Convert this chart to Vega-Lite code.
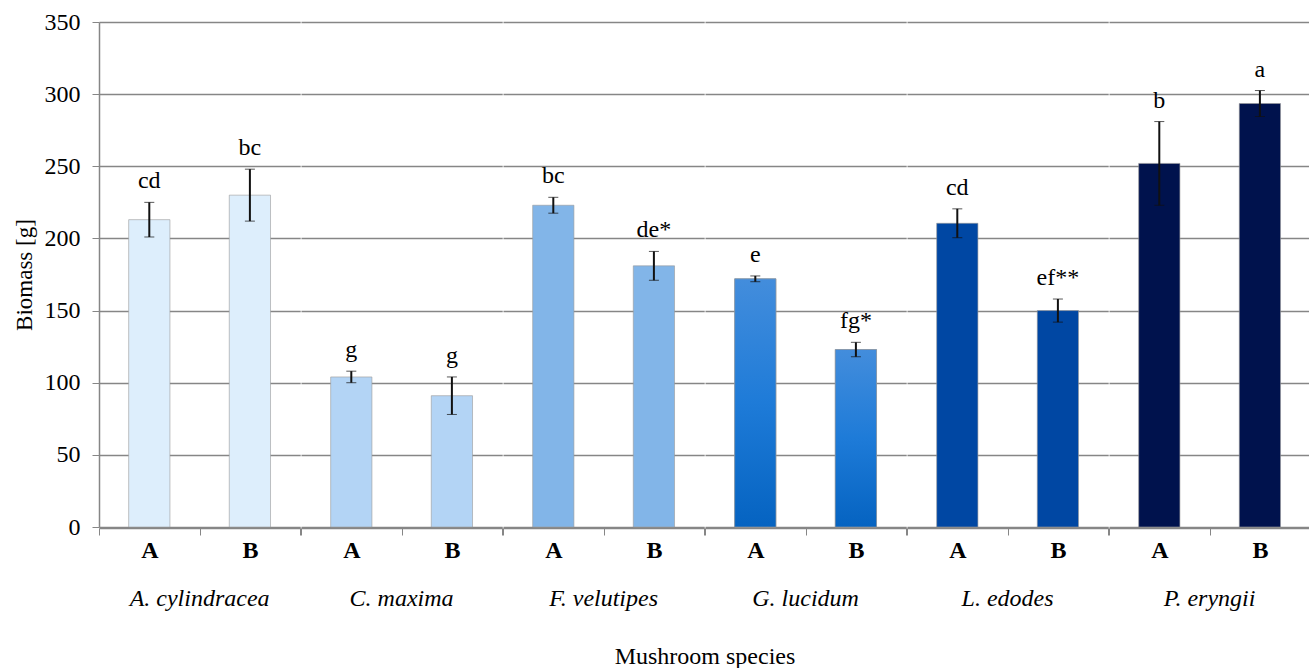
{
  "$schema": "https://vega.github.io/schema/vega-lite/v6.json",
  "background": "white",
  "padding": {"left": 13, "top": 10, "right": 0, "bottom": 0},
  "config": {
    "view": {"stroke": null},
    "font": "Liberation Serif",
    "axis": {"labelFont": "Liberation Serif", "titleFont": "Liberation Serif"}
  },
  "data": {
    "values": [
      {"species": "A. cylindracea", "treatment": "A", "mean": 213, "err": 12, "group": "cd"},
      {"species": "A. cylindracea", "treatment": "B", "mean": 230, "err": 18, "group": "bc"},
      {"species": "C. maxima", "treatment": "A", "mean": 104, "err": 4, "group": "g"},
      {"species": "C. maxima", "treatment": "B", "mean": 91, "err": 13, "group": "g"},
      {"species": "F. velutipes", "treatment": "A", "mean": 223, "err": 5.5, "group": "bc"},
      {"species": "F. velutipes", "treatment": "B", "mean": 181, "err": 10, "group": "de*"},
      {"species": "G. lucidum", "treatment": "A", "mean": 172, "err": 2, "group": "e"},
      {"species": "G. lucidum", "treatment": "B", "mean": 123, "err": 5, "group": "fg*"},
      {"species": "L. edodes", "treatment": "A", "mean": 210.5, "err": 10, "group": "cd"},
      {"species": "L. edodes", "treatment": "B", "mean": 150, "err": 8, "group": "ef**"},
      {"species": "P. eryngii", "treatment": "A", "mean": 252, "err": 29, "group": "b"},
      {"species": "P. eryngii", "treatment": "B", "mean": 293.5, "err": 9, "group": "a"}
    ]
  },
  "transform": [{"calculate": "datum.mean + datum.err", "as": "top"}],
  "facet": {
    "column": {
      "field": "species",
      "type": "nominal",
      "sort": null,
      "header": {
        "labelOrient": "bottom",
        "labelFont": "Liberation Serif",
        "labelFontStyle": "italic",
        "labelFontSize": 24,
        "labelColor": "black",
        "labelPadding": 25,
        "title": "Mushroom species",
        "titleOrient": "bottom",
        "titleFont": "Liberation Serif",
        "titleFontSize": 24,
        "titleFontWeight": "normal",
        "titleColor": "black",
        "titlePadding": 24
      }
    }
  },
  "spacing": 0,
  "spec": {
    "width": 201.2,
    "height": 505,
    "encoding": {
      "x": {
        "field": "treatment",
        "type": "nominal",
        "scale": {"paddingInner": 0, "paddingOuter": 0},
        "axis": {
          "title": null,
          "labelAngle": 0,
          "labelFontSize": 24,
          "labelFontWeight": "bold",
          "labelColor": "black",
          "labelPadding": 3,
          "tickBand": "extent",
          "tickSize": 7,
          "tickColor": "#868686",
          "domainColor": "#868686",
          "domainWidth": 1.5,
          "grid": false
        }
      }
    },
    "layer": [
      {
        "mark": {"type": "bar", "width": {"band": 0.41}, "stroke": "#9a9a9a", "strokeOpacity": 0.6, "strokeWidth": 1},
        "encoding": {
          "y": {
            "field": "mean",
            "type": "quantitative",
            "title": "Biomass [g]",
            "scale": {"domain": [0, 350]},
            "axis": {
              "titleFontSize": 23,
              "titleFontWeight": "normal",
              "titleColor": "black",
              "titlePadding": 8,
              "values": [0, 50, 100, 150, 200, 250, 300, 350],
              "labelFontSize": 24,
              "labelColor": "black",
              "labelPadding": 12,
              "tickSize": 7,
              "tickColor": "#868686",
              "domainColor": "#868686",
              "domainWidth": 1.5,
              "gridColor": "#868686",
              "gridWidth": 1.3
            }
          },
          "color": {
            "field": "species",
            "type": "nominal",
            "legend": null,
            "scale": {
              "domain": ["A. cylindracea", "C. maxima", "F. velutipes", "G. lucidum", "L. edodes", "P. eryngii"],
              "range": ["#DDEEFC", "#B3D4F5", "#82B5E8", "#2A7FD8", "#0047A3", "#00124D"]
            }
          }
        }
      },
      {
        "transform": [{"filter": "datum.species === 'G. lucidum'"}],
        "mark": {
          "type": "bar",
          "width": {"band": 0.41},
          "stroke": "#9a9a9a",
          "strokeOpacity": 0.6,
          "strokeWidth": 1,
          "color": {
            "gradient": "linear",
            "x1": 0, "y1": 0, "x2": 0, "y2": 1,
            "stops": [
              {"offset": 0, "color": "#438DDC"},
              {"offset": 0.5, "color": "#1E7BD8"},
              {"offset": 1, "color": "#0563C1"}
            ]
          }
        },
        "encoding": {
          "y": {"field": "mean", "type": "quantitative", "title": "Biomass [g]"}
        }
      },
      {
        "mark": {
          "type": "errorbar",
          "ticks": {"size": 10, "color": "#111111", "strokeWidth": 2},
          "rule": {"color": "#111111", "strokeWidth": 2}
        },
        "encoding": {
          "y": {"field": "mean", "type": "quantitative", "title": "Biomass [g]"},
          "yError": {"field": "err"}
        }
      },
      {
        "mark": {"type": "text", "font": "Liberation Serif", "fontSize": 24, "color": "black", "baseline": "alphabetic", "dy": -14},
        "encoding": {
          "y": {"field": "top", "type": "quantitative", "title": "Biomass [g]"},
          "text": {"field": "group"}
        }
      }
    ]
  }
}
